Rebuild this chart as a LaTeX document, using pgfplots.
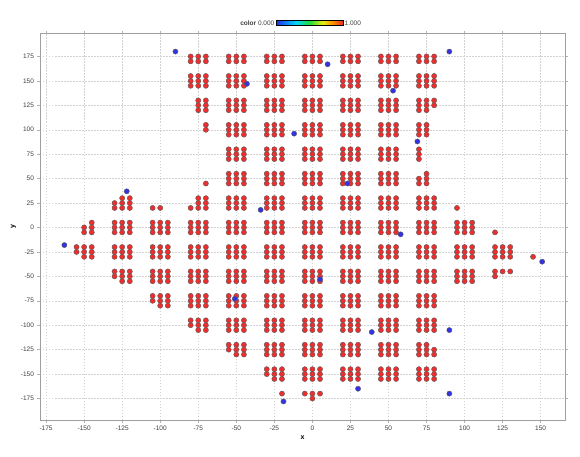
\documentclass[border=0pt]{standalone}
\usepackage{fontspec}
\setmainfont{Liberation Sans}
\usepackage{pgfplots}
\pgfplotsset{compat=1.18}
\usetikzlibrary{calc}

\definecolor{ptred}{RGB}{240,45,45}
\definecolor{ptblue}{RGB}{50,50,230}
\definecolor{ticktext}{RGB}{60,60,60}

\pgfplotsset{
  colormap={kn}{rgb255(0cm)=(40,40,235) rgb255(3cm)=(0,215,255) rgb255(5cm)=(30,220,50)
                rgb255(7cm)=(235,235,20) rgb255(8.5cm)=(255,140,0) rgb255(10cm)=(235,40,40)},
}

\begin{document}
\begin{tikzpicture}
\useasboundingbox (-40pt,-36pt) rectangle (540pt,420pt);
\begin{axis}[
    scale only axis,
    width=525pt, height=387pt,
    xmin=-179, xmax=166,
    ymin=-197, ymax=199,
    xtick={-175,-150,...,150},
    ytick={-175,-150,...,175},
    grid=major,
    major grid style={gray!35, dash pattern=on 1.5pt off 1.5pt, line width=0.4pt},
    axis line style={gray!75, line width=0.9pt},
    tick style={gray!60, line width=0.4pt},
    tick align=outside,
    major tick length=2.5pt,
    /pgf/number format/assume math mode=true,
    ticklabel style={font=\fontsize{6.5}{7}\selectfont, text=ticktext},
    xlabel={\textbf{x}}, ylabel={\textbf{y}},
    label style={font=\fontsize{7}{8}\selectfont},
    xlabel style={yshift=2pt},
    ylabel style={yshift=-2pt},
    colormap name=kn,
    point meta min=0, point meta max=1,
    colorbar horizontal,
    colorbar style={
        at={($(parent axis.north)+(7pt,16pt)$)}, anchor=south,
        scale only axis,
        width=67pt, height=5pt,
        xtick=\empty, ytick=\empty,
        axis line style={black, line width=0.4pt},
        after end axis/.code={
            \node[anchor=east, inner sep=1.5pt, font=\fontsize{6.5}{7}\selectfont, text=ticktext]
                at (rel axis cs:0,0.5) {\textbf{color} 0.000};
            \node[anchor=west, inner sep=1.5pt, font=\fontsize{6.5}{7}\selectfont, text=ticktext]
                at (rel axis cs:1,0.5) {1.000};
        },
    },
]
% red points (color = 1)
\addplot[only marks, mark=*, mark size=2.6pt,
         mark options={fill=ptred, draw=black!65, line width=0.4pt}] coordinates {
% y ~ 175
(-80,175)(-75,175)(-70,175)(-80,170)(-75,170)(-70,170)
(-55,175)(-50,175)(-45,175)(-55,170)(-50,170)(-45,170)
(-30,175)(-25,175)(-20,175)(-30,170)(-25,170)(-20,170)
(-5,175)(0,175)(5,175)(-5,170)(0,170)(5,170)
(20,175)(25,175)(30,175)(20,170)(25,170)(30,170)
(45,175)(50,175)(55,175)(45,170)(50,170)(55,170)
(70,175)(75,175)(80,175)(70,170)(75,170)(80,170)
% y ~ 150
(-80,155)(-75,155)(-70,155)(-80,150)(-75,150)(-70,150)(-80,145)(-75,145)(-70,145)
(-55,155)(-50,155)(-45,155)(-55,150)(-50,150)(-45,150)(-55,145)(-50,145)(-45,145)
(-30,155)(-25,155)(-20,155)(-30,150)(-25,150)(-20,150)(-30,145)(-25,145)(-20,145)
(-5,155)(0,155)(5,155)(-5,150)(0,150)(5,150)(-5,145)(0,145)(5,145)
(20,155)(25,155)(30,155)(20,150)(25,150)(30,150)(20,145)(25,145)(30,145)
(45,155)(50,155)(55,155)(45,150)(50,150)(55,150)(45,145)(50,145)(55,145)
(70,155)(75,155)(80,155)(70,150)(75,150)(80,150)(70,145)(75,145)(80,145)
% y ~ 125
(-75,130)(-70,130)(-75,125)(-70,125)(-75,120)(-70,120)
(-55,130)(-50,130)(-45,130)(-55,125)(-50,125)(-45,125)(-55,120)(-50,120)(-45,120)
(-30,130)(-25,130)(-20,130)(-30,125)(-25,125)(-20,125)(-30,120)(-25,120)(-20,120)
(-5,130)(0,130)(5,130)(-5,125)(0,125)(5,125)(-5,120)(0,120)(5,120)
(20,130)(25,130)(30,130)(20,125)(25,125)(30,125)(20,120)(25,120)(30,120)
(45,130)(50,130)(55,130)(45,125)(50,125)(55,125)(45,120)(50,120)(55,120)
(70,130)(75,130)(80,130)(70,125)(75,125)(80,125)(70,120)(75,120)
% y ~ 100
(-70,105)(-70,100)
(-55,105)(-50,105)(-45,105)(-55,100)(-50,100)(-45,100)(-55,95)(-50,95)(-45,95)
(-30,105)(-25,105)(-20,105)(-30,100)(-25,100)(-20,100)(-30,95)(-25,95)(-20,95)
(-5,105)(0,105)(5,105)(-5,100)(0,100)(5,100)(-5,95)(0,95)(5,95)
(20,105)(25,105)(30,105)(20,100)(25,100)(30,100)(20,95)(25,95)(30,95)
(45,105)(50,105)(55,105)(45,100)(50,100)(55,100)(45,95)(50,95)(55,95)
(70,105)(75,105)(70,100)(75,100)(70,95)(75,95)
% y ~ 75
(-55,80)(-50,80)(-45,80)(-55,75)(-50,75)(-45,75)(-55,70)(-50,70)(-45,70)
(-30,80)(-25,80)(-20,80)(-30,75)(-25,75)(-20,75)(-30,70)(-25,70)(-20,70)
(-5,80)(0,80)(5,80)(-5,75)(0,75)(5,75)(-5,70)(0,70)(5,70)
(20,80)(25,80)(30,80)(20,75)(25,75)(30,75)(20,70)(25,70)(30,70)
(45,80)(50,80)(55,80)(45,75)(50,75)(55,75)(45,70)(50,70)(55,70)
(70,80)(70,75)(70,70)
% y ~ 50
(-70,45)
(-55,55)(-50,55)(-45,55)(-55,50)(-50,50)(-45,50)(-55,45)(-50,45)(-45,45)
(-30,55)(-25,55)(-20,55)(-30,50)(-25,50)(-20,50)(-30,45)(-25,45)(-20,45)
(-5,55)(0,55)(5,55)(-5,50)(0,50)(5,50)(-5,45)(0,45)(5,45)
(20,55)(25,55)(30,55)(20,50)(25,50)(30,50)(20,45)(25,45)(30,45)
(45,55)(50,55)(55,55)(45,50)(50,50)(55,50)(45,45)(50,45)(55,45)
(75,55)(70,50)(75,50)(70,45)(75,45)
% y ~ 25
(-125,30)(-120,30)(-130,25)(-125,25)(-120,25)(-130,20)(-125,20)(-120,20)
(-105,20)(-100,20)
(-75,30)(-70,30)(-75,25)(-70,25)(-80,20)(-75,20)(-70,20)
(-55,30)(-50,30)(-45,30)(-55,25)(-50,25)(-45,25)(-55,20)(-50,20)(-45,20)
(-30,30)(-25,30)(-20,30)(-30,25)(-25,25)(-20,25)(-30,20)(-25,20)(-20,20)
(-5,30)(0,30)(5,30)(-5,25)(0,25)(5,25)(-5,20)(0,20)(5,20)
(20,30)(25,30)(30,30)(20,25)(25,25)(30,25)(20,20)(25,20)(30,20)
(45,30)(50,30)(55,30)(45,25)(50,25)(55,25)(45,20)(50,20)(55,20)
(70,30)(75,30)(80,30)(70,25)(75,25)(80,25)(70,20)(75,20)(80,20)
(95,20)
% y ~ 0
(-145,5)(-150,0)(-145,0)(-150,-5)(-145,-5)
(-130,5)(-125,5)(-120,5)(-130,0)(-125,0)(-120,0)(-130,-5)(-125,-5)(-120,-5)
(-105,5)(-100,5)(-95,5)(-105,0)(-100,0)(-95,0)(-105,-5)(-100,-5)(-95,-5)
(-80,5)(-75,5)(-70,5)(-80,0)(-75,0)(-70,0)(-80,-5)(-75,-5)(-70,-5)
(-55,5)(-50,5)(-45,5)(-55,0)(-50,0)(-45,0)(-55,-5)(-50,-5)(-45,-5)
(-30,5)(-25,5)(-20,5)(-30,0)(-25,0)(-20,0)(-30,-5)(-25,-5)(-20,-5)
(-5,5)(0,5)(5,5)(-5,0)(0,0)(5,0)(-5,-5)(0,-5)(5,-5)
(20,5)(25,5)(30,5)(20,0)(25,0)(30,0)(20,-5)(25,-5)(30,-5)
(45,5)(50,5)(55,5)(45,0)(50,0)(55,0)(45,-5)(50,-5)(55,-5)
(70,5)(75,5)(80,5)(70,0)(75,0)(80,0)(70,-5)(75,-5)(80,-5)
(95,5)(100,5)(105,5)(95,0)(100,0)(105,0)(95,-5)(100,-5)(105,-5)
(120,-5)
% y ~ -25
(-155,-20)(-150,-20)(-145,-20)(-155,-25)(-150,-25)(-145,-25)(-150,-30)(-145,-30)
(-130,-20)(-125,-20)(-120,-20)(-130,-25)(-125,-25)(-120,-25)(-130,-30)(-125,-30)(-120,-30)
(-105,-20)(-100,-20)(-95,-20)(-105,-25)(-100,-25)(-95,-25)(-105,-30)(-100,-30)(-95,-30)
(-80,-20)(-75,-20)(-70,-20)(-80,-25)(-75,-25)(-70,-25)(-80,-30)(-75,-30)(-70,-30)
(-55,-20)(-50,-20)(-45,-20)(-55,-25)(-50,-25)(-45,-25)(-55,-30)(-50,-30)(-45,-30)
(-30,-20)(-25,-20)(-20,-20)(-30,-25)(-25,-25)(-20,-25)(-30,-30)(-25,-30)(-20,-30)
(-5,-20)(0,-20)(5,-20)(-5,-25)(0,-25)(5,-25)(-5,-30)(0,-30)(5,-30)
(20,-20)(25,-20)(30,-20)(20,-25)(25,-25)(30,-25)(20,-30)(25,-30)(30,-30)
(45,-20)(50,-20)(55,-20)(45,-25)(50,-25)(55,-25)(45,-30)(50,-30)(55,-30)
(70,-20)(75,-20)(80,-20)(70,-25)(75,-25)(80,-25)(70,-30)(75,-30)(80,-30)
(95,-20)(100,-20)(105,-20)(95,-25)(100,-25)(105,-25)(95,-30)(100,-30)(105,-30)
(120,-20)(125,-20)(130,-20)(120,-25)(125,-25)(130,-25)(120,-30)(125,-30)(130,-30)
(145,-30)
% y ~ -50
(-130,-45)(-125,-45)(-120,-45)(-130,-50)(-125,-50)(-120,-50)(-125,-55)(-120,-55)
(-105,-45)(-100,-45)(-95,-45)(-105,-50)(-100,-50)(-95,-50)(-105,-55)(-100,-55)(-95,-55)
(-80,-45)(-75,-45)(-70,-45)(-80,-50)(-75,-50)(-70,-50)(-80,-55)(-75,-55)(-70,-55)
(-55,-45)(-50,-45)(-45,-45)(-55,-50)(-50,-50)(-45,-50)(-55,-55)(-50,-55)(-45,-55)
(-30,-45)(-25,-45)(-20,-45)(-30,-50)(-25,-50)(-20,-50)(-30,-55)(-25,-55)(-20,-55)
(-5,-45)(0,-45)(5,-45)(-5,-50)(0,-50)(5,-50)(-5,-55)(0,-55)(5,-55)
(20,-45)(25,-45)(30,-45)(20,-50)(25,-50)(30,-50)(20,-55)(25,-55)(30,-55)
(45,-45)(50,-45)(55,-45)(45,-50)(50,-50)(55,-50)(45,-55)(50,-55)(55,-55)
(70,-45)(75,-45)(80,-45)(70,-50)(75,-50)(80,-50)(70,-55)(75,-55)(80,-55)
(95,-45)(100,-45)(105,-45)(95,-50)(100,-50)(105,-50)(95,-55)(100,-55)(105,-55)
(120,-45)(125,-45)(130,-45)(120,-50)
% y ~ -75
(-105,-70)(-100,-70)(-95,-70)(-105,-75)(-100,-75)(-95,-75)(-100,-80)(-95,-80)
(-80,-70)(-75,-70)(-70,-70)(-80,-75)(-75,-75)(-70,-75)(-80,-80)(-75,-80)(-70,-80)
(-55,-70)(-50,-70)(-45,-70)(-55,-75)(-50,-75)(-45,-75)(-55,-80)(-50,-80)(-45,-80)
(-30,-70)(-25,-70)(-20,-70)(-30,-75)(-25,-75)(-20,-75)(-30,-80)(-25,-80)(-20,-80)
(-5,-70)(0,-70)(5,-70)(-5,-75)(0,-75)(5,-75)(-5,-80)(0,-80)(5,-80)
(20,-70)(25,-70)(30,-70)(20,-75)(25,-75)(30,-75)(20,-80)(25,-80)(30,-80)
(45,-70)(50,-70)(55,-70)(45,-75)(50,-75)(55,-75)(45,-80)(50,-80)(55,-80)
(70,-70)(75,-70)(80,-70)(70,-75)(75,-75)(80,-75)(70,-80)(75,-80)(80,-80)
% y ~ -100
(-80,-95)(-75,-95)(-70,-95)(-80,-100)(-75,-100)(-70,-100)(-75,-105)(-70,-105)
(-55,-95)(-50,-95)(-45,-95)(-55,-100)(-50,-100)(-45,-100)(-55,-105)(-50,-105)(-45,-105)
(-30,-95)(-25,-95)(-20,-95)(-30,-100)(-25,-100)(-20,-100)(-30,-105)(-25,-105)(-20,-105)
(-5,-95)(0,-95)(5,-95)(-5,-100)(0,-100)(5,-100)(-5,-105)(0,-105)(5,-105)
(20,-95)(25,-95)(30,-95)(20,-100)(25,-100)(30,-100)(20,-105)(25,-105)(30,-105)
(45,-95)(50,-95)(55,-95)(45,-100)(50,-100)(55,-100)(45,-105)(50,-105)(55,-105)
(70,-95)(75,-95)(80,-95)(70,-100)(75,-100)(80,-100)(70,-105)(75,-105)(80,-105)
% y ~ -125
(-55,-120)(-50,-120)(-45,-120)(-55,-125)(-50,-125)(-45,-125)(-50,-130)(-45,-130)
(-30,-120)(-25,-120)(-20,-120)(-30,-125)(-25,-125)(-20,-125)(-30,-130)(-25,-130)(-20,-130)
(-5,-120)(0,-120)(5,-120)(-5,-125)(0,-125)(5,-125)(-5,-130)(0,-130)(5,-130)
(20,-120)(25,-120)(30,-120)(20,-125)(25,-125)(30,-125)(20,-130)(25,-130)(30,-130)
(45,-120)(50,-120)(55,-120)(45,-125)(50,-125)(55,-125)(45,-130)(50,-130)(55,-130)
(70,-120)(75,-120)(70,-125)(75,-125)(80,-125)(70,-130)(75,-130)(80,-130)
% y ~ -150
(-30,-145)(-25,-145)(-20,-145)(-30,-150)(-25,-150)(-20,-150)(-25,-155)(-20,-155)
(-5,-145)(0,-145)(5,-145)(-5,-150)(0,-150)(5,-150)(-5,-155)(0,-155)(5,-155)
(20,-145)(25,-145)(30,-145)(20,-150)(25,-150)(30,-150)(20,-155)(25,-155)(30,-155)
(45,-145)(50,-145)(55,-145)(45,-150)(50,-150)(55,-150)(45,-155)(50,-155)(55,-155)
(70,-145)(75,-145)(80,-145)(70,-150)(75,-150)(80,-150)(70,-155)(75,-155)(80,-155)
% y ~ -175
(-20,-170)(-5,-170)(0,-170)(5,-170)(0,-175)
};
% blue points (color = 0)
\addplot[only marks, mark=*, mark size=2.6pt,
         mark options={fill=ptblue, draw=black!65, line width=0.4pt}] coordinates {
(-163,-18) (-122,37) (-90,180) (-43,147) (-12,96) (10,167) (-34,18) (23,45)
(53,140) (69,88) (90,180) (58,-7) (151,-35) (5,-53) (-51,-73) (39,-107)
(90,-105) (30,-165) (-19,-178) (90,-170)
};
\end{axis}
\end{tikzpicture}
\end{document}
